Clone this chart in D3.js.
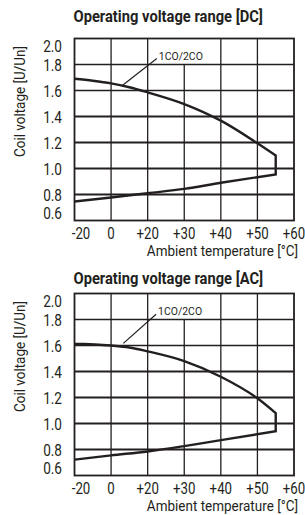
<!DOCTYPE html>
<html>
<head>
<meta charset="utf-8">
<script src="https://cdn.jsdelivr.net/npm/d3@7"></script>
<style>
  body { margin: 0; background: #fff; }
  svg text { font-family: Roboto, "Liberation Sans", sans-serif; fill: #231f20; }
</style>
</head>
<body>
<div id="chart"></div>
<script>
// x axis ticks (not evenly spaced in value, evenly spaced on paper)
var tempTicks = [-20, 0, 20, 30, 40, 50, 60];
var tempLabels = ["-20", "0", "+20", "+30", "+40", "+50", "+60"];
var voltTicks = [2.0, 1.8, 1.6, 1.4, 1.2, 1.0, 0.8, 0.6];

// DC curve: upper limit, then lower limit
var dcUpperTemp = [-20, -10, 0, 10, 20, 30, 40, 50, 55];
var dcUpperVolt = [1.69, 1.675, 1.655, 1.625, 1.586, 1.496, 1.368, 1.194, 1.10];
var dcLowerTemp = [55, 40, 30, 20, 0, -20];
var dcLowerVolt = [0.955, 0.89, 0.843, 0.81, 0.777, 0.746];

// AC curve
var acUpperTemp = [-20, -15, 0, 10, 20, 30, 40, 50, 55];
var acUpperVolt = [1.612, 1.612, 1.600, 1.585, 1.555, 1.48, 1.36, 1.194, 1.08];
var acLowerTemp = [55, 40, 30, 20, 0, -20];
var acLowerVolt = [0.94, 0.872, 0.826, 0.785, 0.755, 0.722];

var seriesLabel = "1CO/2CO";
// annotation leader: [text anchor temp, volt], [curve point temp, volt]
var dcLeader = [[22.5, 1.846], [5.8, 1.634]];
var acLeader = [[22.3, 1.84], [6.7, 1.616]];

var attrs = {
  svgWidth: 305,
  svgHeight: 515,
  plotLeft: 74.5,
  plotRight: 294,
  plotHeight: 182,
  ink: '#231f20'
};

var svg = d3.select('#chart').append('svg')
  .attr('width', attrs.svgWidth)
  .attr('height', attrs.svgHeight);

var x = d3.scaleLinear()
  .domain(tempTicks)
  .range(tempTicks.map(function (d, i) {
    return attrs.plotLeft + i * (attrs.plotRight - attrs.plotLeft) / (tempTicks.length - 1);
  }));

// narrow text helper (fakes the condensed face of the original)
function ctext(parent, tx, ty, str, size, squeeze, anchor, rotate, weight) {
  var t = parent.append('g')
    .attr('transform', 'translate(' + tx + ',' + ty + ')' + (rotate ? ' rotate(' + rotate + ')' : '') +
      ' scale(' + squeeze + ',1)')
    .append('text')
    .attr('font-size', size)
    .attr('text-anchor', anchor || 'start')
    .text(str);
  if (weight) t.attr('font-weight', weight);
  return t;
}

drawPanel({ top: 38.5, title: "Operating voltage range [DC]", titleY: 22,
  upT: dcUpperTemp, upV: dcUpperVolt, loT: dcLowerTemp, loV: dcLowerVolt, leader: dcLeader });
drawPanel({ top: 293.5, title: "Operating voltage range [AC]", titleY: 284,
  upT: acUpperTemp, upV: acUpperVolt, loT: acLowerTemp, loV: acLowerVolt, leader: acLeader });

function drawPanel(p) {
  var y = d3.scaleLinear()
    .domain([0.6, 2.0])
    .range([p.top + attrs.plotHeight, p.top]);
  var bottom = p.top + attrs.plotHeight;
  var g = svg.append('g');

  // title
  ctext(g, attrs.plotLeft - 1, p.titleY, p.title, 16, 0.92, 'start', 0, 'bold');

  // grid
  g.selectAll('.hgrid').data(voltTicks.slice(1, -1)).enter().append('line')
    .attr('x1', attrs.plotLeft).attr('x2', attrs.plotRight)
    .attr('y1', function (d) { return y(d); }).attr('y2', function (d) { return y(d); })
    .attr('stroke', attrs.ink)
    .attr('stroke-width', function (d) { return d < 1.5 ? 1.8 : 1.3; });

  g.selectAll('.vgrid').data(tempTicks.slice(1, -1)).enter().append('line')
    .attr('x1', function (d) { return x(d); }).attr('x2', function (d) { return x(d); })
    .attr('y1', function (d) { return d === 30 ? y(1.8) : p.top; })
    .attr('y2', bottom)
    .attr('stroke', attrs.ink)
    .attr('stroke-width', 1.3);

  g.append('rect')
    .attr('x', attrs.plotLeft).attr('y', p.top)
    .attr('width', attrs.plotRight - attrs.plotLeft)
    .attr('height', attrs.plotHeight)
    .attr('fill', 'none')
    .attr('stroke', attrs.ink)
    .attr('stroke-width', 1.8);

  // y ticks (end labels pushed inside the frame, as on the original)
  voltTicks.forEach(function (d) {
    var off = d === 2.0 ? 13.5 : (d === 0.6 ? -2 : 6);
    ctext(g, 62, y(d) + off, d.toFixed(1), 16, 0.85, 'end');
  });

  // x ticks
  tempTicks.forEach(function (d, i) {
    ctext(g, x(d) + (d === -20 ? 6.5 : 0), bottom + 18.5, tempLabels[i], 17, 0.78, 'middle');
  });

  ctext(g, 298, bottom + 35.5, "Ambient temperature [°C]", 15.5, 0.87, 'end');
  ctext(g, 25, p.top + 7.5, "Coil voltage [U/Un]", 15.5, 0.87, 'end', -90);

  // curve
  var line = d3.line().curve(d3.curveMonotoneX)
    .x(function (d) { return x(d[0]); })
    .y(function (d) { return y(d[1]); });
  var up = p.upT.map(function (t, i) { return [t, p.upV[i]]; });
  var lo = p.loT.map(function (t, i) { return [t, p.loV[i]]; });
  var path = line(up) + line(lo).replace(/^M/, 'L');
  g.append('path')
    .attr('d', path)
    .attr('fill', 'none')
    .attr('stroke', attrs.ink)
    .attr('stroke-width', 2.4)
    .attr('stroke-linejoin', 'miter');

  // leader + label
  g.append('line')
    .attr('x1', x(p.leader[0][0])).attr('y1', y(p.leader[0][1]))
    .attr('x2', x(p.leader[1][0])).attr('y2', y(p.leader[1][1]))
    .attr('stroke', attrs.ink)
    .attr('stroke-width', 1.2);
  ctext(g, x(p.leader[0][0]) + 2, y(p.leader[0][1]) + 1, seriesLabel, 11, 0.95, 'start');
}
</script>
</body>
</html>
